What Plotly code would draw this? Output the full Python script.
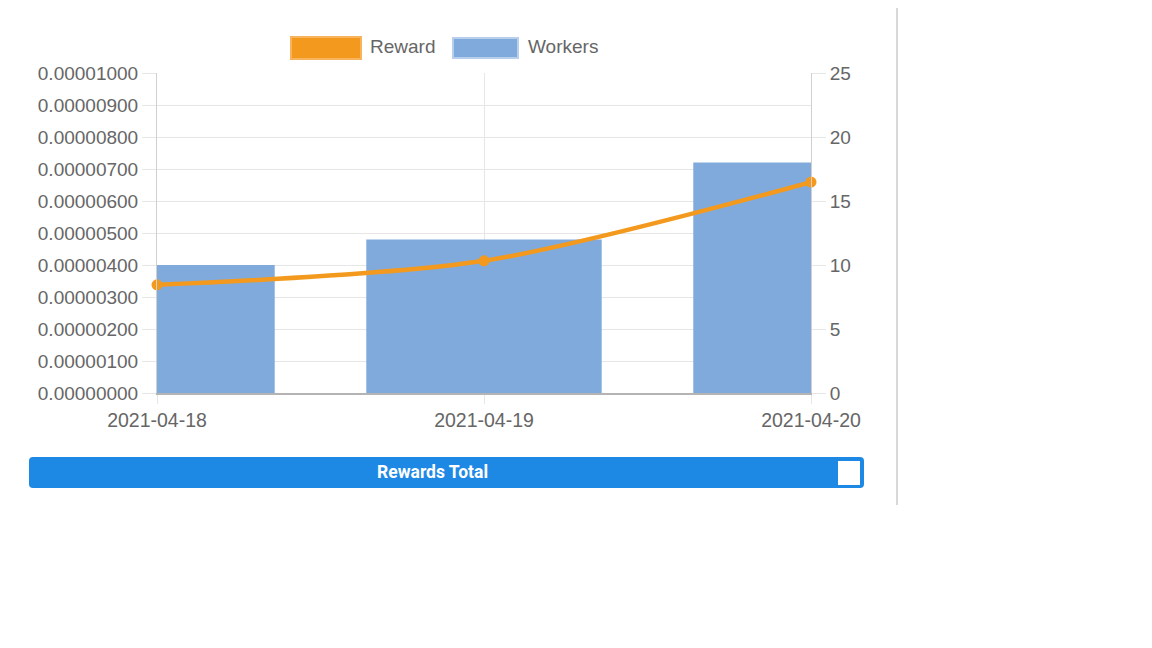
import plotly.graph_objects as go

# Data
dates = ['2021-04-18', '2021-04-19', '2021-04-20']
workers = [10, 12, 18]
reward = [0.00000338, 0.00000413, 0.00000659]

reward_ticks = [i * 0.000001 for i in range(11)]
reward_labels = ['%.8f' % v for v in reward_ticks]

orange = '#F39A1E'
blue = '#80AADC'
grid = '#E6E6E6'
txt = '#666666'
font = 'Liberation Sans, Arial, sans-serif'

# page body has an 8px margin, so the figure starts at (8, 8)
OFF = 8
W, H = 1152 - OFF, 648 - OFF
L, R, T, B = 157, 811, 73, 393  # plot area in page pixels


def px(x):
    return (x - L) / (R - L)


def py(y):
    return (B - y) / (B - T)


fig = go.Figure()

fig.add_trace(go.Bar(x=dates, y=workers, name='Workers', marker_color=blue,
                     marker_line_width=0, width=0.72, yaxis='y',
                     hoverinfo='x+y'))

fig.add_trace(go.Scatter(x=dates, y=reward, name='Reward', yaxis='y2',
                         mode='lines+markers',
                         line=dict(color=orange, width=4.5, shape='spline', smoothing=0.8),
                         marker=dict(color=orange, size=11),
                         cliponaxis=False))

# legend drawn the chart.js way: boxes + labels
shapes = [
    dict(type='rect', xref='paper', yref='paper', x0=px(291), x1=px(361), y0=py(59), y1=py(37),
         fillcolor=orange, line=dict(color='#F7B45C', width=2)),
    dict(type='rect', xref='paper', yref='paper', x0=px(453), x1=px(518), y0=py(58), y1=py(38),
         fillcolor=blue, line=dict(color='#B7CFEC', width=2)),
    # panel separator
    dict(type='line', xref='paper', yref='paper', x0=px(897), x1=px(897), y0=py(505), y1=py(0),
         line=dict(color='#D8D8D8', width=2)),
    # button bar
    dict(type='path', xref='paper', yref='paper',
         path='M %f %f L %f %f Q %f %f %f %f L %f %f Q %f %f %f %f L %f %f Q %f %f %f %f L %f %f Q %f %f %f %f Z' % (
             px(33), py(457), px(860), py(457), px(864), py(457), px(864), py(461),
             px(864), py(484), px(864), py(488), px(860), py(488),
             px(33), py(488), px(29), py(488), px(29), py(484),
             px(29), py(461), px(29), py(457), px(33), py(457)),
         fillcolor='#1E88E5', line=dict(width=0)),
    dict(type='rect', xref='paper', yref='paper', x0=px(838), x1=px(860), y0=py(485), y1=py(461),
         fillcolor='white', line=dict(width=0)),
]

annotations = [
    dict(text='Reward', xref='paper', yref='paper', x=px(368), y=py(47), xanchor='left',
         yanchor='middle', showarrow=False, font=dict(family=font, size=19, color=txt)),
    dict(text='Workers', xref='paper', yref='paper', x=px(526), y=py(47), xanchor='left',
         yanchor='middle', showarrow=False, font=dict(family=font, size=19, color=txt)),
    dict(text='<b>Rewards Total</b>', xref='paper', yref='paper', x=px(432), y=py(472),
         xanchor='center', yanchor='middle', showarrow=False,
         font=dict(family='Roboto, sans-serif', size=17.5, color='white')),
]

fig.update_layout(
    width=W, height=H,
    margin=dict(l=L - OFF, r=W - (R - OFF), t=T - OFF, b=H - (B - OFF), pad=0),
    paper_bgcolor='white', plot_bgcolor='white',
    showlegend=False,
    font=dict(family=font, size=19, color=txt),
    shapes=shapes,
    annotations=annotations,
    xaxis=dict(type='category', range=[0, 2], showgrid=True, gridcolor=grid,
               ticks='outside', ticklen=9, tickcolor=grid, showline=True,
               linecolor='#B4B4B4', linewidth=2, tickfont=dict(size=19.5)),
    yaxis=dict(side='right', range=[0, 25], dtick=5, showgrid=True, gridcolor=grid,
               minor=dict(dtick=2.5, showgrid=True, gridcolor=grid),
               ticks='outside', ticklen=14, tickcolor=grid, showline=True,
               linecolor='#D0D0D0', linewidth=1, zeroline=False,
               tickfont=dict(size=19)),
    yaxis2=dict(side='left', overlaying='y', range=[0, 0.00001],
                tickvals=reward_ticks, ticktext=reward_labels,
                showgrid=False, ticks='outside', ticklen=14, tickcolor=grid,
                showline=True, linecolor='#D0D0D0', linewidth=1, zeroline=False,
                tickfont=dict(size=19)),
)

fig.write_html('out.html')
